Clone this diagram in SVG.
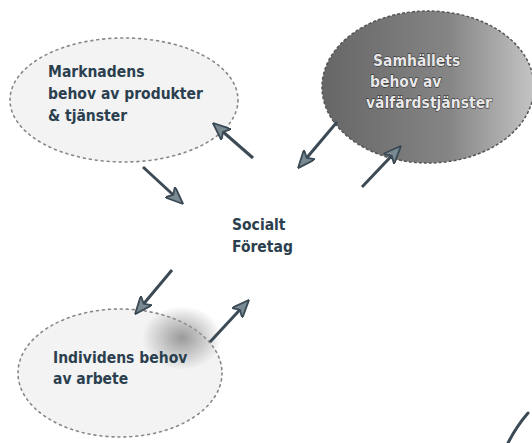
<svg xmlns="http://www.w3.org/2000/svg" width="532" height="443" viewBox="0 0 532 443">
<style>
.lbl{font-family:"DejaVu Sans Condensed","DejaVu Sans",sans-serif;font-weight:bold;font-size:15.5px;fill:#2b3f4f}
.inv{font-family:"DejaVu Sans Condensed","DejaVu Sans",sans-serif;font-weight:bold;font-size:15.5px;fill:#e8e8e8;stroke:#222;stroke-width:0.9;paint-order:stroke}
.dot{fill:#f3f3f3;stroke:#888;stroke-width:1.6;stroke-dasharray:2 4;stroke-linecap:round}
.conn{stroke:#3b4a55;stroke-width:3;fill:none;marker-end:url(#ah)}
</style>
<defs>
<marker id="ah" viewBox="0 0 12 10" refX="11" refY="5" markerWidth="6" markerHeight="5" orient="auto" markerUnits="strokeWidth">
<path d="M0,0 L12,5 L0,10 L3,5 Z" fill="#7a8a92" stroke="#3b4a55" stroke-width="1.2"/>
</marker>
<linearGradient id="g2" x1="0" y1="0" x2="1" y2="0">
<stop offset="0" stop-color="#666"/>
<stop offset="0.6" stop-color="#858585"/>
<stop offset="1" stop-color="#c4c4c4"/>
</linearGradient>
<radialGradient id="g3" cx="0.5" cy="0.5" r="0.5">
<stop offset="0" stop-color="#9a9a9a"/>
<stop offset="1" stop-color="#9a9a9a" stop-opacity="0"/>
</radialGradient>
</defs>
<rect width="532" height="443" fill="#ffffff"/>
<g id="marknadens">
<ellipse class="dot" cx="124" cy="100" rx="114" ry="62"/>
<text class="lbl" x="48" y="77">Marknadens</text>
<text class="lbl" x="48" y="99">behov av produkter</text>
<text class="lbl" x="48" y="121">&amp; tjänster</text>
</g>
<g id="samhallets">
<ellipse cx="428" cy="87" rx="106" ry="76" fill="url(#g2)" stroke="#555" stroke-width="1.5" stroke-dasharray="3 2"/>
<text class="inv" x="373" y="66">Samhällets</text>
<text class="inv" x="370" y="87">behov av</text>
<text class="inv" x="366" y="108">välfärdstjänster</text>
</g>
<g id="individens">
<ellipse class="dot" cx="120" cy="373" rx="102" ry="64"/>
<ellipse cx="182" cy="338" rx="40" ry="32" fill="url(#g3)"/>
<text class="lbl" x="53" y="363">Individens behov</text>
<text class="lbl" x="53" y="384">av arbete</text>
</g>
<g id="socialt">
<text class="lbl" x="232" y="230">Socialt</text>
<text class="lbl" x="232" y="252">Företag</text>
</g>
<g id="connectors">
<line class="conn" x1="143" y1="167" x2="182" y2="203"/>
<line class="conn" x1="253" y1="158" x2="214" y2="124"/>
<line class="conn" x1="337" y1="122" x2="299" y2="167"/>
<line class="conn" x1="362" y1="187" x2="400" y2="147"/>
<line class="conn" x1="172" y1="270" x2="136" y2="313"/>
<line class="conn" x1="210" y1="342" x2="248" y2="301"/>
<path d="M508,443 Q516,427 528,413" stroke="#3b4a55" stroke-width="3" fill="none" stroke-linecap="round"/>
</g>
</svg>
